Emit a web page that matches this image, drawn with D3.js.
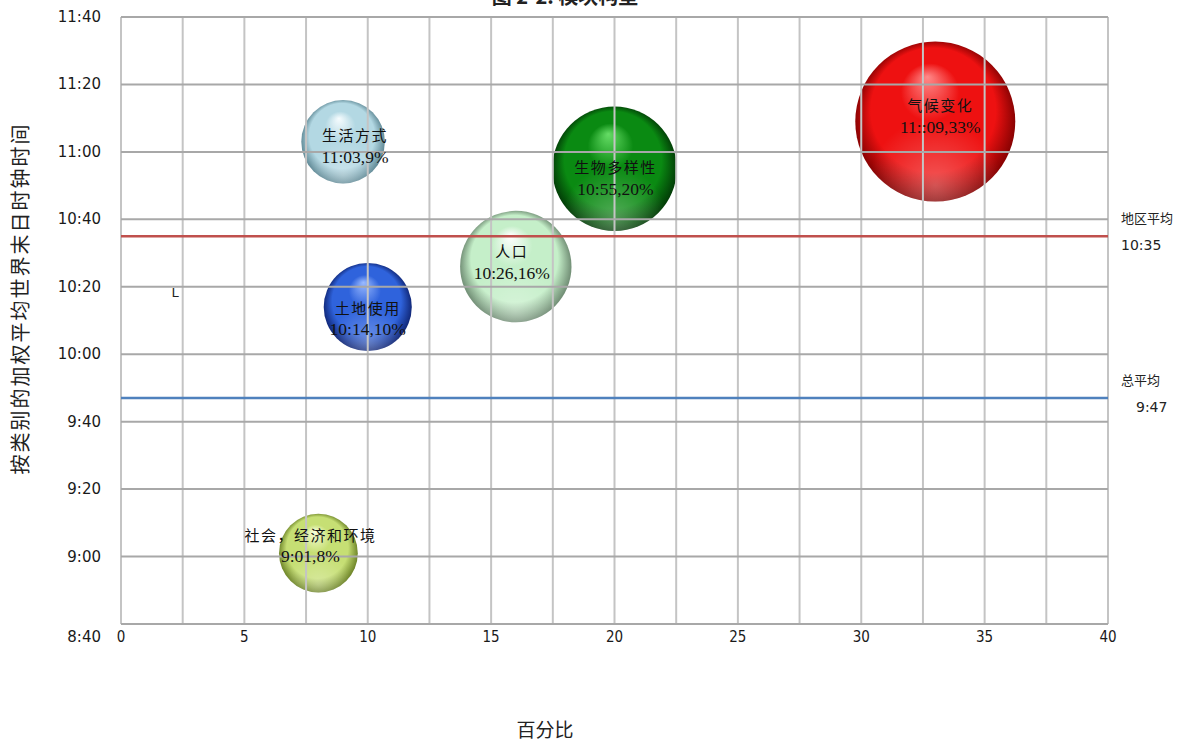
<!DOCTYPE html>
<html>
<head>
<meta charset="utf-8">
<script src="https://cdn.jsdelivr.net/npm/d3@7"></script>
<style>
  html, body { margin: 0; padding: 0; background: #fff; }
  svg { display: block; }
</style>
</head>
<body>
<svg id="chart" width="1190" height="745"></svg>
<script>
// Categories and values
const categories = ["气候变化", "生物多样性", "生活方式", "人口", "土地使用", "社会，经济和环境"];
const clockTimes = ["11:09", "10:55", "11:03", "10:26", "10:14", "9:01"];
const clockLabels = ["11::09", "10:55", "11:03", "10:26", "10:14", "9:01"];
const percents = [33, 20, 9, 16, 10, 8];

// Reference lines
const refNames = ["地区平均", "总平均"];
const refTimes = ["10:35", "9:47"];

// Axis ticks
const xTicks = [0, 5, 10, 15, 20, 25, 30, 35, 40];
const yTickLabels = ["8:40", "9:00", "9:20", "9:40", "10:00", "10:20", "10:40", "11:00", "11:20", "11:40"];

const toMin = s => { const [h, m] = s.split(":").map(Number); return h * 60 + m; };

// Sphere shading per bubble: highlight, body, rim
const sphereColors = [
  ["#ff8a8a", "#ee1111", "#7a0000"],
  ["#66dd66", "#0a8a12", "#013205"],
  ["#f6fcfe", "#b3d8e3", "#557f8c"],
  ["#ffffff", "#c5efc9", "#647f68"],
  ["#9abaff", "#2f63dc", "#0c1f6a"],
  ["#f9ffdc", "#c6df74", "#62781e"]
];
// Label nudges (px) relative to bubble centre: [dx, dy of first line]
const labelNudge = [[5, -17], [1, -2], [12, -7], [-4, -16], [0, 0], [-8, -19]];

const svg = d3.select("#chart");
const plotL = 121, plotT = 17, plotR = 1108, plotB = 624;

const x = d3.scaleLinear().domain([0, 40]).range([plotL, plotR]);
const y = d3.scaleLinear().domain([toMin("8:40"), toMin("11:40")]).range([plotB, plotT]);
const r = d3.scaleSqrt().domain([0, 33]).range([0, 80]);

const defs = svg.append("defs");
sphereColors.forEach((c, i) => {
  const g = defs.append("radialGradient")
    .attr("id", "sph" + i)
    .attr("cx", "50%").attr("cy", "50%").attr("r", "52%")
    .attr("fx", "45%").attr("fy", "22%");
  g.append("stop").attr("offset", "0%").attr("stop-color", c[0]);
  g.append("stop").attr("offset", "35%").attr("stop-color", c[1]);
  g.append("stop").attr("offset", "75%").attr("stop-color", c[1]);
  g.append("stop").attr("offset", "100%").attr("stop-color", c[2]);
});
// soft lower rim reflection
const refl = defs.append("radialGradient").attr("id", "refl")
  .attr("cx", "50%").attr("cy", "90%").attr("r", "42%");
refl.append("stop").attr("offset", "0%").attr("stop-color", "#fff").attr("stop-opacity", 0.3);
refl.append("stop").attr("offset", "100%").attr("stop-color", "#fff").attr("stop-opacity", 0);

const data = categories.map((c, i) => ({
  name: c, t: toMin(clockTimes[i]), label: clockLabels[i], p: percents[i], i
}));

// Bubbles
const bub = svg.append("g").selectAll("g").data(data).join("g");
bub.append("circle")
  .attr("cx", d => x(d.p)).attr("cy", d => y(d.t)).attr("r", d => r(d.p))
  .attr("fill", d => `url(#sph${d.i})`);
bub.append("circle")
  .attr("cx", d => x(d.p)).attr("cy", d => y(d.t)).attr("r", d => r(d.p))
  .attr("fill", "url(#refl)");

// Grid (drawn over the bubbles)
const grid = svg.append("g");
grid.selectAll("line.v").data(d3.range(0, 40.01, 2.5)).join("line")
  .attr("x1", d => x(d)).attr("x2", d => x(d))
  .attr("y1", plotT).attr("y2", plotB)
  .attr("stroke", "#c4c4c4").attr("stroke-width", 2);
grid.selectAll("line.h").data(yTickLabels.map(toMin)).join("line")
  .attr("x1", plotL).attr("x2", plotR)
  .attr("y1", d => y(d)).attr("y2", d => y(d))
  .attr("stroke", "#a8a8a8").attr("stroke-width", 2);

// Reference lines
const refColors = ["#c0504d", "#4f81bd"];
svg.append("g").selectAll("line").data(refTimes).join("line")
  .attr("x1", plotL).attr("x2", plotR)
  .attr("y1", d => y(toMin(d))).attr("y2", d => y(toMin(d)))
  .attr("stroke", (d, i) => refColors[i]).attr("stroke-width", 2.5);

const refG = svg.append("g").attr("fill", "#222");
refG.selectAll("text.n").data(refNames).join("text")
  .attr("x", 1121).attr("y", (d, i) => y(toMin(refTimes[i])) - 13)
  .attr("font-family", "Noto Sans CJK SC").attr("font-size", 13)
  .text(d => d);
refG.selectAll("text.v").data(refTimes).join("text")
  .attr("x", (d, i) => i === 0 ? 1121 : 1136)
  .attr("y", d => y(toMin(d)) + 14)
  .attr("font-family", "DejaVu Sans").attr("font-size", 14)
  .text(d => d);

// Bubble labels
const lab = svg.append("g").attr("fill", "#111");
data.forEach(d => {
  const cx = x(d.p) + labelNudge[d.i][0];
  const cy = y(d.t) + labelNudge[d.i][1];
  lab.append("text").attr("x", cx).attr("y", cy)
    .attr("text-anchor", "middle").attr("dominant-baseline", "central")
    .attr("font-family", "Noto Sans CJK SC").attr("font-size", 15)
    .attr("letter-spacing", 1.5)
    .text(d.name);
  lab.append("text").attr("x", cx).attr("y", cy + 22)
    .attr("text-anchor", "middle").attr("dominant-baseline", "central")
    .attr("font-family", "Liberation Serif").attr("font-size", 17.5)
    .text(`${d.label},${d.p}%`);
});

// stray mark
svg.append("text").attr("x", x(2.05)).attr("y", y(toMin("10:17")))
  .attr("font-family", "DejaVu Sans").attr("font-size", 13).attr("fill", "#222").text("L");

// Y tick labels
svg.append("g").selectAll("text").data(yTickLabels).join("text")
  .attr("x", 101).attr("y", (d, i) => i === 0 ? plotB + 13 : y(toMin(d)))
  .attr("text-anchor", "end").attr("dominant-baseline", "central")
  .attr("font-family", "DejaVu Sans").attr("font-size", 15).attr("fill", "#1a1a1a")
  .text(d => d);

// X tick labels
svg.append("g").selectAll("text").data(xTicks).join("text")
  .attr("x", d => x(d)).attr("y", plotB + 13)
  .attr("text-anchor", "middle").attr("dominant-baseline", "central")
  .attr("font-family", "DejaVu Sans Condensed, DejaVu Sans").attr("font-size", 15).attr("fill", "#1a1a1a")
  .text(d => d);

// Axis titles
svg.append("text").attr("x", 545).attr("y", 728)
  .attr("text-anchor", "middle").attr("dominant-baseline", "central")
  .attr("font-family", "Noto Sans CJK SC").attr("font-size", 19).attr("fill", "#222")
  .text("百分比");
svg.append("text")
  .attr("transform", `translate(19,${(plotT + plotB) / 2 - 22}) rotate(-90)`)
  .attr("text-anchor", "middle").attr("dominant-baseline", "central")
  .attr("font-family", "Noto Sans CJK SC").attr("font-size", 20).attr("letter-spacing", 2).attr("fill", "#222")
  .text("按类别的加权平均世界末日时钟时间");

// Title, clipped by the top edge of the page
svg.append("text").attr("x", 565).attr("y", 4)
  .attr("text-anchor", "middle")
  .attr("font-family", "Noto Sans CJK SC").attr("font-weight", "bold").attr("font-size", 20).attr("fill", "#222")
  .text("图 2-2. 模块构型");
</script>
</body>
</html>
